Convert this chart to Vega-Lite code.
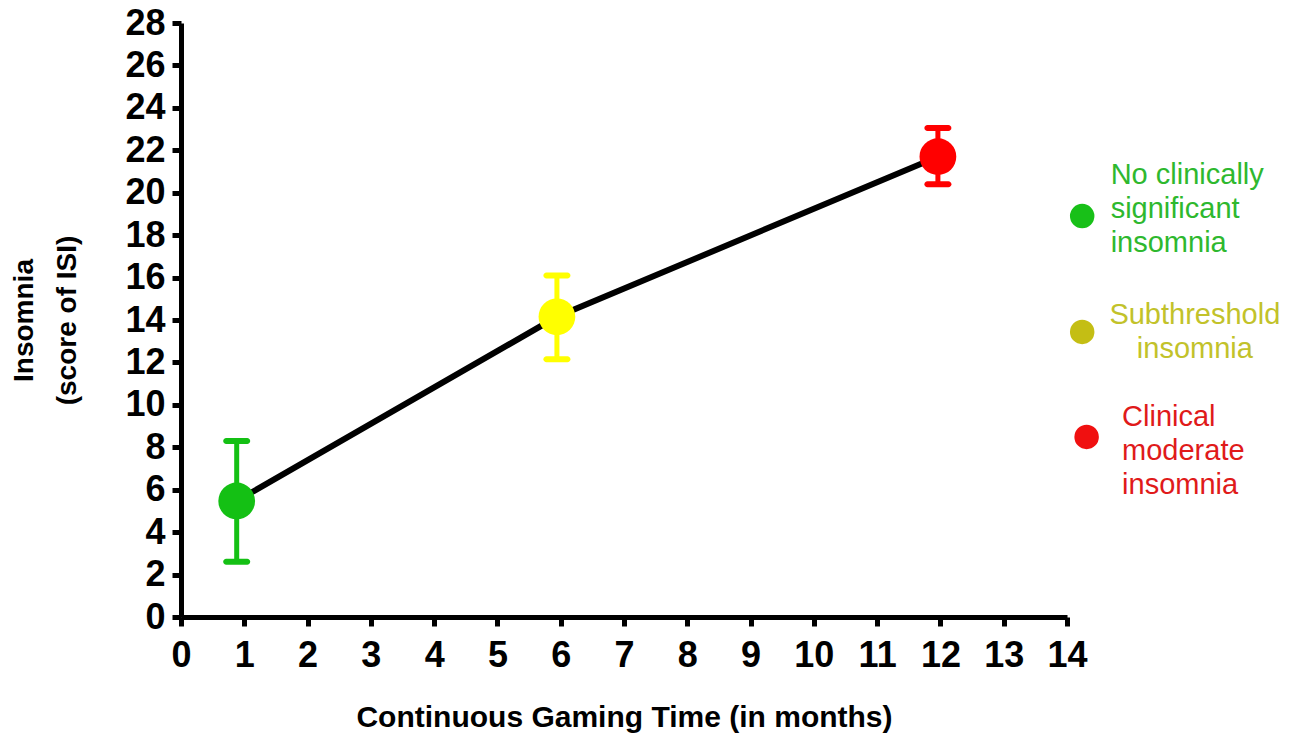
{
  "$schema": "https://vega.github.io/schema/vega-lite/v6.json",
  "width": 886,
  "height": 594,
  "padding": {"left": 10, "top": 5, "right": 5, "bottom": 5},
  "background": "white",
  "config": {
    "view": {"stroke": null},
    "font": "Liberation Sans",
    "axis": {
      "grid": false,
      "domainColor": "black",
      "domainWidth": 5,
      "tickColor": "black",
      "tickWidth": 5,
      "tickSize": 9,
      "labelColor": "black",
      "labelFont": "Liberation Sans",
      "labelFontWeight": "bold",
      "labelFontSize": 36,
      "labelOverlap": false,
      "labelFlush": false,
      "titleColor": "black",
      "titleFont": "Liberation Sans",
      "titleFontWeight": "bold"
    }
  },
  "datasets": {
    "main": [
      {"month": 0.88, "isi": 5.47, "lo": 2.6, "hi": 8.3, "group": "No clinically significant insomnia"},
      {"month": 5.94, "isi": 14.15, "lo": 12.15, "hi": 16.1, "group": "Subthreshold insomnia"},
      {"month": 11.96, "isi": 21.7, "lo": 20.4, "hi": 23.05, "group": "Clinical moderate insomnia"}
    ],
    "legend": [
      {"dotX": 14.24, "dotY": 18.9, "textX": 14.69, "textY": 20.41, "label": "No clinically\nsignificant\ninsomnia", "group": "No clinically significant insomnia"},
      {"dotX": 14.24, "dotY": 13.44, "textX": 16.02, "textY": 13.81, "label": "Subthreshold\ninsomnia", "group": "Subthreshold insomnia"},
      {"dotX": 14.31, "dotY": 8.49, "textX": 14.87, "textY": 9.0, "label": "Clinical\nmoderate\ninsomnia", "group": "Clinical moderate insomnia"}
    ]
  },
  "resolve": {"scale": {"color": "independent"}},
  "layer": [
    {
      "data": {"name": "main"},
      "mark": {"type": "line", "color": "black", "strokeWidth": 6},
      "encoding": {
        "x": {
          "field": "month", "type": "quantitative",
          "scale": {"domain": [0, 14], "nice": false},
          "axis": {
            "values": [0,1,2,3,4,5,6,7,8,9,10,11,12,13,14],
            "format": "d",
            "title": "Continuous Gaming Time (in months)",
            "titleFontSize": 30,
            "titlePadding": 29,
            "labelPadding": 12
          }
        },
        "y": {
          "field": "isi", "type": "quantitative",
          "scale": {"domain": [0, 28], "nice": false},
          "axis": {
            "values": [0,2,4,6,8,10,12,14,16,18,20,22,24,26,28],
            "format": "d",
            "title": ["Insomnia", "(score of ISI)"],
            "titleFontSize": 28,
            "titleLineHeight": 43,
            "titlePadding": 43,
            "labelPadding": 7
          }
        }
      }
    },
    {
      "data": {"name": "main"},
      "mark": {"type": "rule", "strokeWidth": 5},
      "encoding": {
        "x": {"field": "month", "type": "quantitative"},
        "y": {"field": "lo", "type": "quantitative"},
        "y2": {"field": "hi"},
        "color": {"field": "group", "type": "nominal", "legend": null,
          "scale": {"domain": ["No clinically significant insomnia", "Subthreshold insomnia", "Clinical moderate insomnia"], "range": ["#14c014", "#ffff00", "#ff0000"]}}
      }
    },
    {
      "data": {"name": "main"},
      "mark": {"type": "tick", "orient": "horizontal", "size": 27, "thickness": 6, "cornerRadius": 3, "opacity": 1},
      "encoding": {
        "x": {"field": "month", "type": "quantitative"},
        "y": {"field": "lo", "type": "quantitative"},
        "color": {"field": "group", "type": "nominal", "legend": null,
          "scale": {"domain": ["No clinically significant insomnia", "Subthreshold insomnia", "Clinical moderate insomnia"], "range": ["#14c014", "#ffff00", "#ff0000"]}}
      }
    },
    {
      "data": {"name": "main"},
      "mark": {"type": "tick", "orient": "horizontal", "size": 27, "thickness": 6, "cornerRadius": 3, "opacity": 1},
      "encoding": {
        "x": {"field": "month", "type": "quantitative"},
        "y": {"field": "hi", "type": "quantitative"},
        "color": {"field": "group", "type": "nominal", "legend": null,
          "scale": {"domain": ["No clinically significant insomnia", "Subthreshold insomnia", "Clinical moderate insomnia"], "range": ["#14c014", "#ffff00", "#ff0000"]}}
      }
    },
    {
      "data": {"name": "main"},
      "mark": {"type": "circle", "size": 1350, "opacity": 1},
      "encoding": {
        "x": {"field": "month", "type": "quantitative"},
        "y": {"field": "isi", "type": "quantitative"},
        "color": {"field": "group", "type": "nominal", "legend": null,
          "scale": {"domain": ["No clinically significant insomnia", "Subthreshold insomnia", "Clinical moderate insomnia"], "range": ["#14c014", "#ffff00", "#ff0000"]}}
      }
    },
    {
      "data": {"name": "legend"},
      "mark": {"type": "circle", "size": 600, "opacity": 1},
      "encoding": {
        "x": {"field": "dotX", "type": "quantitative"},
        "y": {"field": "dotY", "type": "quantitative"},
        "color": {"field": "group", "type": "nominal", "legend": null,
          "scale": {"domain": ["No clinically significant insomnia", "Subthreshold insomnia", "Clinical moderate insomnia"], "range": ["#18c018", "#c4be14", "#f01010"]}}
      }
    },
    {
      "data": {"name": "legend"},
      "transform": [{"filter": "datum.group !== 'Subthreshold insomnia'"}],
      "mark": {"type": "text", "align": "left", "baseline": "alphabetic", "fontSize": 29, "lineHeight": 34, "lineBreak": "\n", "font": "Liberation Sans"},
      "encoding": {
        "x": {"field": "textX", "type": "quantitative"},
        "y": {"field": "textY", "type": "quantitative"},
        "text": {"field": "label"},
        "color": {"field": "group", "type": "nominal", "legend": null,
          "scale": {"domain": ["No clinically significant insomnia", "Subthreshold insomnia", "Clinical moderate insomnia"], "range": ["#2eb82e", "#c2c22a", "#e01a1a"]}}
      }
    },
    {
      "data": {"name": "legend"},
      "transform": [{"filter": "datum.group === 'Subthreshold insomnia'"}],
      "mark": {"type": "text", "align": "center", "baseline": "alphabetic", "fontSize": 29, "lineHeight": 34, "lineBreak": "\n", "font": "Liberation Sans"},
      "encoding": {
        "x": {"field": "textX", "type": "quantitative"},
        "y": {"field": "textY", "type": "quantitative"},
        "text": {"field": "label"},
        "color": {"field": "group", "type": "nominal", "legend": null,
          "scale": {"domain": ["No clinically significant insomnia", "Subthreshold insomnia", "Clinical moderate insomnia"], "range": ["#2eb82e", "#c2c22a", "#e01a1a"]}}
      }
    }
  ]
}
